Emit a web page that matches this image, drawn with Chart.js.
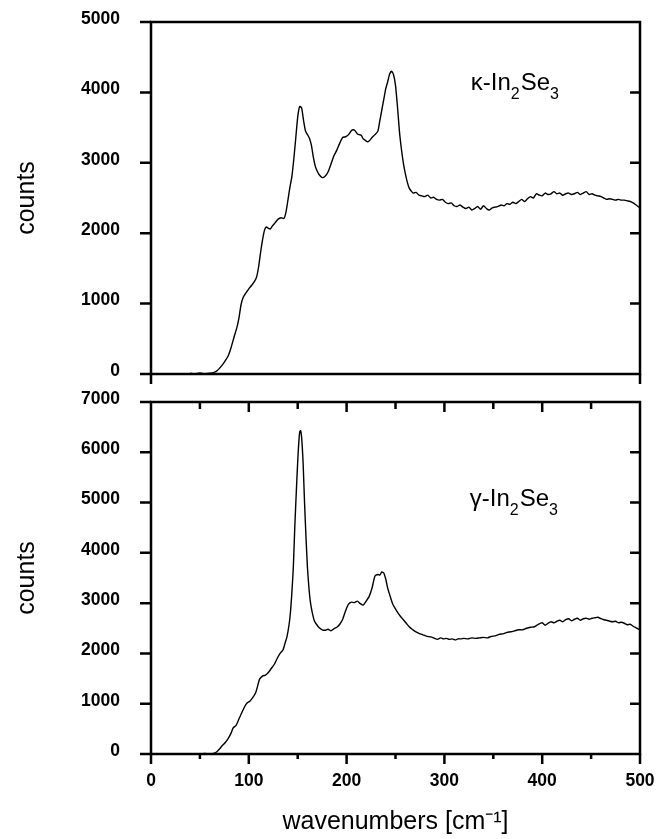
<!DOCTYPE html>
<html>
<head>
<meta charset="utf-8">
<script src="https://cdn.jsdelivr.net/npm/chart.js@4/dist/chart.umd.min.js"></script>
<style>
  html, body { margin: 0; padding: 0; background: #fff; }
  #wrap { position: relative; width: 665px; height: 839px; }
  #wrap canvas { position: absolute; left: 0; }
  #top { top: 0; }
  #bottom { top: 380px; }
</style>
</head>
<body>
<div id="wrap">
  <canvas id="top" width="665" height="400"></canvas>
  <canvas id="bottom" width="665" height="459"></canvas>
</div>
<script>
// kappa-In2Se3 spectrum (upper panel)
const kappaWavenumbers = [40, 45, 50, 55, 60, 64, 67, 70, 73, 76, 79, 82, 85, 88, 90, 92, 94, 97, 100, 103, 106, 108, 110, 112, 114, 116, 118, 120, 122, 124, 127, 130, 133, 136, 138, 140, 142, 144, 146, 148, 150, 152, 154, 156, 158, 160, 162, 164, 166, 168, 170, 172, 175, 178, 181, 184, 187, 190, 193, 196, 199, 202, 205, 207, 209, 211, 213, 215, 217, 219, 221, 223, 226, 229, 232, 234, 236, 238, 240, 242, 244, 246, 248, 250, 252, 254, 256, 258, 260, 262, 264, 266, 268, 271, 274, 277, 280, 283, 286, 289, 292, 295, 298, 301, 304, 307, 310, 313, 316, 319, 322, 325, 328, 331, 334, 337, 340, 343, 346, 349, 352, 355, 358, 361, 364, 367, 370, 373, 376, 379, 382, 385, 388, 391, 394, 397, 400, 403, 406, 409, 412, 415, 418, 421, 424, 427, 430, 433, 436, 439, 442, 445, 448, 451, 454, 457, 460, 463, 466, 469, 472, 475, 478, 481, 484, 487, 490, 493, 496, 500];
const kappaCounts = [10, 0, 15, 5, 10, 20, 40, 80, 130, 190, 260, 380, 530, 670, 800, 980, 1080, 1150, 1210, 1260, 1320, 1380, 1520, 1720, 1900, 2040, 2090, 2070, 2060, 2100, 2150, 2200, 2220, 2210, 2300, 2470, 2650, 2800, 3050, 3350, 3650, 3800, 3780, 3600, 3450, 3400, 3350, 3250, 3080, 2950, 2880, 2830, 2790, 2810, 2870, 2980, 3100, 3180, 3280, 3360, 3370, 3400, 3460, 3470, 3450, 3410, 3400, 3390, 3340, 3320, 3300, 3310, 3360, 3400, 3450, 3600, 3750, 3900, 4050, 4150, 4260, 4300, 4250, 4100, 3800, 3450, 3200, 3000, 2850, 2730, 2640, 2600, 2570, 2580, 2540, 2530, 2520, 2540, 2500, 2510, 2480, 2470, 2480, 2440, 2420, 2430, 2390, 2380, 2400, 2370, 2350, 2370, 2330, 2350, 2380, 2340, 2390, 2350, 2330, 2360, 2370, 2380, 2400, 2390, 2420, 2410, 2440, 2420, 2450, 2480, 2450, 2490, 2520, 2500, 2560, 2540, 2530, 2570, 2550, 2560, 2590, 2560, 2570, 2540, 2560, 2570, 2550, 2560, 2580, 2550, 2570, 2590, 2550, 2560, 2540, 2530, 2520, 2500, 2480, 2490, 2480, 2470, 2480, 2470, 2470, 2460, 2450, 2430, 2400, 2360];

// gamma-In2Se3 spectrum (lower panel)
const gammaWavenumbers = [50, 55, 60, 64, 67, 70, 73, 76, 79, 82, 84, 87, 90, 93, 96, 98, 101, 104, 107, 109, 111, 114, 117, 120, 123, 126, 129, 132, 135, 137, 139, 141, 142.5, 144, 145.5, 147, 149, 150.5, 152, 153, 154, 155.5, 157, 158.5, 160, 161.5, 163, 165, 167, 169.5, 172, 175, 178, 181, 184, 187, 190, 193, 196, 199, 202, 205, 208, 211, 214, 217, 220, 223, 226, 229, 232, 234, 236, 238, 240, 242, 244.5, 247, 249.5, 252, 255, 258, 261, 264, 267, 270, 274, 278, 282, 286, 290, 293, 296, 299, 302, 305, 308, 311, 314, 317, 320, 324, 328, 332, 336, 340, 344, 348, 352, 356, 360, 364, 368, 372, 376, 380, 384, 388, 392, 396, 400, 403, 406, 409, 412, 415, 418, 421, 424, 427, 430, 433, 436, 439, 442, 445, 448, 451, 454, 457, 460, 463, 466, 469, 472, 475, 478, 481, 484, 487, 490, 493, 496, 500];
const gammaCounts = [0, 10, 0, 10, 40, 100, 170, 230, 310, 420, 520, 570, 700, 830, 950, 1010, 1050, 1120, 1220, 1350, 1490, 1550, 1570, 1620, 1700, 1780, 1900, 2000, 2070, 2200, 2330, 2550, 2800, 3200, 3700, 4500, 5400, 6000, 6400, 6430, 6300, 5800, 5000, 4300, 3700, 3300, 3020, 2800, 2650, 2570, 2510, 2470, 2460, 2480, 2450, 2490, 2520, 2580, 2680, 2850, 2980, 3020, 3010, 3040, 2990, 2960, 3040, 3130, 3300, 3540, 3570, 3560, 3620, 3600, 3480, 3300, 3140, 2990, 2900, 2820, 2740, 2670, 2600, 2530, 2480, 2440, 2400, 2370, 2340, 2330, 2300, 2280, 2310, 2290, 2300, 2280, 2290, 2270, 2290, 2290, 2300, 2290, 2310, 2300, 2310, 2320, 2310, 2340, 2350, 2380, 2390, 2420, 2430, 2450, 2470, 2470, 2500, 2520, 2530, 2580, 2610, 2560, 2600, 2630, 2610, 2640, 2660, 2630, 2670, 2690, 2650, 2680, 2700, 2660, 2690, 2700, 2680, 2700, 2710, 2720, 2690, 2670, 2660, 2640, 2630, 2640, 2610, 2620, 2600, 2570, 2580, 2540, 2510, 2470];

const xTickValues = [0, 100, 200, 300, 400, 500];
const FONT = '"Liberation Sans", Arial, Helvetica, sans-serif';

const toPoints = (xs, ys) => xs.map((x, i) => ({ x: x, y: ys[i] }));

// les marges automatiques des axes décalent la zone de tracé : on les annule
const fixScale = size => s => {
  s.paddingTop = 0; s.paddingBottom = 0; s.paddingLeft = 0; s.paddingRight = 0;
  if (s.isHorizontal()) s.height = size; else s.width = size;
};

// Cadre, graduations (intérieures à droite/en haut) et étiquette du composé
const framePlugin = {
  id: 'frame',
  afterDatasetsDraw(chart, args, opts) {
    const { ctx, chartArea: a, scales: { x, y } } = chart;
    ctx.save();
    ctx.strokeStyle = '#000';
    ctx.lineWidth = 2.5;
    ctx.lineCap = 'butt';
    ctx.beginPath();
    // graduations y : extérieures à gauche, intérieures à droite
    y.ticks.forEach(t => {
      const py = y.getPixelForValue(t.value);
      ctx.moveTo(a.left - 11, py);
      ctx.lineTo(a.left, py);
      if (t.value !== y.min && t.value !== y.max) {
        ctx.moveTo(a.right - 10, py);
        ctx.lineTo(a.right, py);
      }
    });
    // graduations x
    x.ticks.forEach(t => {
      const px = x.getPixelForValue(t.value);
      const major = t.value % 100 === 0;
      if (opts.allBottomTicks || t.value === x.min || t.value === x.max) {
        ctx.moveTo(px, a.bottom);
        ctx.lineTo(px, a.bottom + (major ? 10 : 5));
      }
      if (opts.topTicks && t.value !== x.min && t.value !== x.max) {
        ctx.moveTo(px, a.top);
        ctx.lineTo(px, a.top + (major ? 10 : 7));
      }
    });
    ctx.stroke();
    ctx.strokeRect(a.left, a.top, a.right - a.left, a.bottom - a.top);

    // étiquette avec indices
    const lx = x.getPixelForValue(opts.labelAt[0]);
    const ly = y.getPixelForValue(opts.labelAt[1]);
    let cx = lx;
    ctx.fillStyle = '#000';
    ctx.textBaseline = 'alphabetic';
    opts.label.forEach(part => {
      ctx.font = (part.sub ? '16px ' : '24px ') + FONT;
      ctx.fillText(part.text, cx, ly + (part.sub ? 9 : 0));
      cx += ctx.measureText(part.text).width + (part.sub ? 1 : 0);
    });
    ctx.restore();
  }
};

function makeChart(id, xs, ys, yMax, frameOpts, withXLabels) {
  return new Chart(document.getElementById(id), {
    type: 'line',
    data: {
      datasets: [{
        data: toPoints(xs, ys),
        borderColor: '#000',
        borderWidth: 1.4,
        pointRadius: 0,
        tension: 0.2,
        fill: false
      }]
    },
    options: {
      responsive: false,
      animation: false,
      layout: { autoPadding: false, padding: { top: 22, right: 25, left: 0, bottom: 0 } },
      plugins: {
        legend: { display: false },
        tooltip: { enabled: false },
        frame: frameOpts
      },
      scales: {
        x: {
          type: 'linear',
          min: 0,
          max: 500,
          grid: { display: false, drawTicks: false },
          border: { display: false },
          ticks: {
            stepSize: 50,
            autoSkip: false,
            maxRotation: 0,
            display: withXLabels,
            padding: 17,
            color: '#000',
            font: { family: FONT, size: 17.5, weight: 'bold' },
            callback: v => xTickValues.includes(v) ? String(v) : ''
          },
          title: {
            display: withXLabels,
            text: 'wavenumbers [cm\u207B\u00B9]',
            color: '#000',
            padding: { top: 0, bottom: 2 },
            font: { family: FONT, size: 25 }
          },
          afterFit: fixScale(withXLabels ? 85 : 26)
        },
        y: {
          min: 0,
          max: yMax,
          grid: { display: false, drawTicks: false },
          border: { display: false },
          ticks: {
            stepSize: 1000,
            padding: 31,
            labelOffset: -3,
            color: '#000',
            font: { family: FONT, size: 17.5, weight: 'bold' },
            callback: v => String(v)
          },
          title: {
            display: true,
            text: 'counts',
            color: '#000',
            padding: { top: 12, bottom: 0 },
            font: { family: FONT, size: 25 }
          },
          afterFit: fixScale(151)
        }
      }
    },
    plugins: [framePlugin]
  });
}

makeChart('top', kappaWavenumbers, kappaCounts, 5000, {
  allBottomTicks: false,
  topTicks: false,
  labelAt: [327, 4040],
  label: [{ text: '\u03BA-In' }, { text: '2', sub: true }, { text: 'Se' }, { text: '3', sub: true }]
}, false);

makeChart('bottom', gammaWavenumbers, gammaCounts, 7000, {
  allBottomTicks: true,
  topTicks: true,
  labelAt: [326, 4940],
  label: [{ text: '\u03B3-In' }, { text: '2', sub: true }, { text: 'Se' }, { text: '3', sub: true }]
}, true);
</script>
</body>
</html>
